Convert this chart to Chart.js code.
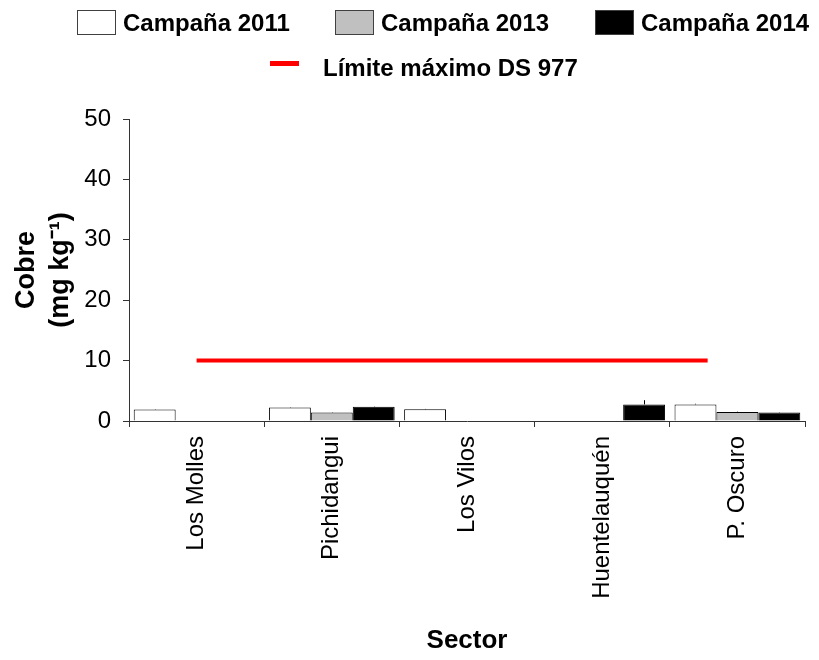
<!DOCTYPE html>
<html>
<head>
<meta charset="utf-8">
<script src="https://cdn.jsdelivr.net/npm/chart.js@4.4.1/dist/chart.umd.min.js"></script>
<style>
  body { margin: 0; background: #fff; }
  #wrap { width: 819px; height: 660px; }
</style>
</head>
<body>
<div id="wrap"><canvas id="chart" width="819" height="660"></canvas></div>
<script>
// categorias y valores
const sectores = ['Los Molles', 'Pichidangui', 'Los Vilos', 'Huentelauquén', 'P. Oscuro'];
const campana2011 = [1.9, 2.25, 1.95, null, 2.75];
const campana2013 = [null, 1.4, null, null, 1.5];
const campana2014 = [null, 2.35, null, 2.75, 1.4];
const error2011 = [0.05, 0.05, 0.05, 0, 0.1];
const error2013 = [0, 0.05, 0, 0, 0.05];
const error2014 = [0, 0.05, 0, 0.7, 0.05];
// limite: posicion en indice de categoria (0 = Los Molles)
const limiteX = [0, 3.78];
const limiteY = [10, 10];
const yTicks = [0, 10, 20, 30, 40, 50];

const errores = [error2011, error2013, error2014];
const fuente = '"Liberation Sans", Arial, sans-serif';

// barras de error simples (solo la linea vertical)
const errorBars = {
  id: 'errorBars',
  afterDatasetsDraw(chart) {
    const ctx = chart.ctx;
    const y = chart.scales.y;
    ctx.save();
    ctx.strokeStyle = '#000';
    ctx.lineWidth = 1;
    errores.forEach((errs, i) => {
      const meta = chart.getDatasetMeta(i);
      meta.data.forEach((bar, j) => {
        const v = chart.data.datasets[i].data[j];
        if (v == null || !errs[j]) return;
        const x = Math.round(bar.x) + 0.5;
        ctx.beginPath();
        ctx.moveTo(x, y.getPixelForValue(v));
        ctx.lineTo(x, y.getPixelForValue(v + errs[j]));
        ctx.stroke();
      });
    });
    ctx.restore();
  }
};

// leyenda en dos filas
const leyenda = {
  id: 'leyenda',
  afterDraw(chart) {
    const ctx = chart.ctx;
    const ds = chart.data.datasets;
    ctx.save();
    ctx.font = 'bold 24px ' + fuente;
    ctx.textBaseline = 'middle';
    const boxX = [77, 335, 595];
    for (let i = 0; i < 3; i++) {
      ctx.fillStyle = ds[i].backgroundColor;
      ctx.fillRect(boxX[i], 10, 39, 25);
      ctx.strokeStyle = '#404040';
      ctx.lineWidth = 1;
      ctx.strokeRect(boxX[i] + 0.5, 10.5, 38, 24);
      ctx.fillStyle = '#000';
      ctx.fillText(ds[i].label, boxX[i] + 46, 24);
    }
    ctx.fillStyle = ds[3].borderColor;
    ctx.fillRect(270, 61, 29, 5);
    ctx.fillStyle = '#000';
    ctx.fillText(ds[3].label, 323, 69);
    ctx.restore();
  }
};

const ctx = document.getElementById('chart').getContext('2d');
new Chart(ctx, {
  type: 'bar',
  data: {
    labels: sectores,
    datasets: [
      { label: 'Campaña 2011', data: campana2011, backgroundColor: '#ffffff', borderColor: '#000', borderWidth: 1 },
      { label: 'Campaña 2013', data: campana2013, backgroundColor: '#c0c0c0', borderColor: '#000', borderWidth: 1 },
      { label: 'Campaña 2014', data: campana2014, backgroundColor: '#000000', borderColor: '#000', borderWidth: 1 },
      {
        type: 'line',
        label: 'Límite máximo DS 977',
        parsing: false,
        data: limiteX.map((x, i) => ({ x: x, y: limiteY[i] })),
        borderColor: '#ff0000',
        backgroundColor: '#ff0000',
        borderWidth: 4,
        pointRadius: 0,
        fill: false
      }
    ]
  },
  options: {
    responsive: false,
    animation: false,
    datasets: { bar: { categoryPercentage: 0.93, barPercentage: 1.0 } },
    layout: { padding: { top: 119, left: 10, right: 14, bottom: 4 } },
    plugins: {
      legend: { display: false },
      tooltip: { enabled: false }
    },
    scales: {
      x: {
        grid: { drawOnChartArea: false, drawTicks: true, tickLength: 6, color: '#333', offset: true },
        border: { color: '#333', width: 1 },
        ticks: {
          autoSkip: false, minRotation: 90, maxRotation: 90, padding: 9,
          color: '#000', font: { family: fuente, size: 24 }
        },
        title: {
          display: true, text: 'Sector', color: '#000', padding: { top: 0, bottom: 0 },
          font: { family: fuente, size: 26, weight: 'bold' }
        },
        afterFit(scale) { scale.height = 235; }
      },
      y: {
        min: 0, max: 50,
        afterBuildTicks(scale) { scale.ticks = yTicks.map(v => ({ value: v })); },
        grid: { drawOnChartArea: false, drawTicks: true, tickLength: 6, color: '#333' },
        border: { color: '#333', width: 1 },
        ticks: {
          padding: 12, color: '#000',
          font: { family: fuente, size: 24 }
        },
        title: {
          display: true, text: ['Cobre', '(mg kg⁻¹)'], color: '#000', padding: { top: 0, bottom: 0 },
          font: { family: fuente, size: 27, weight: 'bold', lineHeight: 1.25 }
        },
        afterFit(scale) { scale.width = 119; }
      }
    }
  },
  plugins: [errorBars, leyenda]
});
</script>
</body>
</html>
